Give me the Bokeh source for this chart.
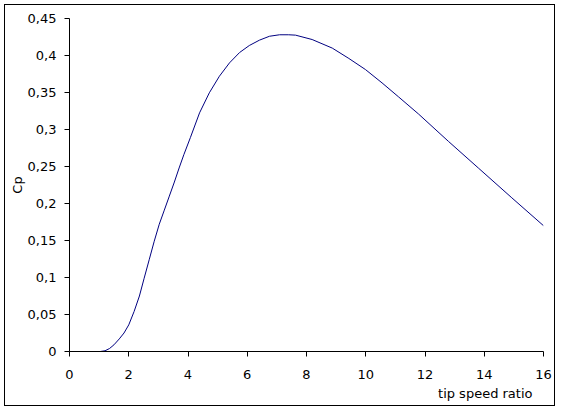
from bokeh.plotting import figure
from bokeh.models import Range1d, FixedTicker, Title, InlineStyleSheet
from bokeh.embed import file_html
from bokeh.resources import INLINE

tsr = [1.04, 1.2, 1.35, 1.5, 1.68, 1.84, 2.0, 2.18, 2.36, 2.52, 2.69, 2.86, 3.03,
       3.2, 3.37, 3.54, 3.70, 3.86, 4.08, 4.39, 4.72, 5.06, 5.40, 5.74, 6.07,
       6.41, 6.75, 7.09, 7.4, 7.63, 8.19, 8.87, 9.43, 9.99, 10.55, 11.11,
       11.78, 12.79, 13.80, 14.93, 16.0]
cp = [0.0, 0.001, 0.004, 0.009, 0.017, 0.025, 0.036, 0.054, 0.075, 0.099, 0.124,
      0.149, 0.172, 0.191, 0.210, 0.229, 0.248, 0.266, 0.289, 0.3225, 0.3496,
      0.372, 0.390, 0.404, 0.4135, 0.4207, 0.426, 0.428, 0.428, 0.4275,
      0.4216, 0.410, 0.396, 0.381, 0.363, 0.344, 0.321, 0.284, 0.248, 0.2077,
      0.170]

x_ticks = [0, 2, 4, 6, 8, 10, 12, 14, 16]
y_ticks = [0, 0.05, 0.1, 0.15, 0.2, 0.25, 0.3, 0.35, 0.4, 0.45]
y_tick_labels = ["0", "0,05", "0,1", "0,15", "0,2", "0,25", "0,3", "0,35", "0,4", "0,45"]

FONT = "DejaVu Sans"

p = figure(width=549, height=400, output_backend="svg", toolbar_location=None,
           x_range=Range1d(0, 16), y_range=Range1d(0, 0.45),
           min_border_left=64, min_border_right=11, min_border_top=13, min_border_bottom=54)
p.margin = (5, 0, 0, 5)
p.stylesheets = [InlineStyleSheet(css=":host { outline: 1px solid black; }")]
p.outline_line_color = None
p.xgrid.visible = False
p.ygrid.visible = False
p.background_fill_color = "white"
p.border_fill_color = "white"

p.line(tsr, cp, line_color="#000080", line_width=1)

for ax in (p.xaxis[0], p.yaxis[0]):
    ax.axis_line_color = "black"
    ax.major_tick_line_color = "black"
    ax.major_tick_in = 0
    ax.major_tick_out = 5
    ax.minor_tick_line_color = None
    ax.major_label_text_font = FONT
    ax.major_label_text_font_size = "13px"
    ax.major_label_text_color = "black"

p.xaxis[0].ticker = FixedTicker(ticks=x_ticks)
p.xaxis[0].major_label_standoff = 13
p.yaxis[0].ticker = FixedTicker(ticks=y_ticks)
p.yaxis[0].major_label_overrides = {t: l for t, l in zip(y_ticks, y_tick_labels)}
p.yaxis[0].major_label_standoff = 8

p.yaxis[0].axis_label = "Cp"
p.yaxis[0].axis_label_text_font = FONT
p.yaxis[0].axis_label_text_font_size = "13px"
p.yaxis[0].axis_label_text_font_style = "normal"
p.yaxis[0].axis_label_text_color = "black"
p.yaxis[0].axis_label_standoff = 0

p.add_layout(Title(text="tip speed ratio", align="right", offset=11,
                   text_font=FONT, text_font_size="13px", text_font_style="normal",
                   text_color="black", standoff=4), "below")

open("out.html", "w").write(file_html(p, INLINE))
